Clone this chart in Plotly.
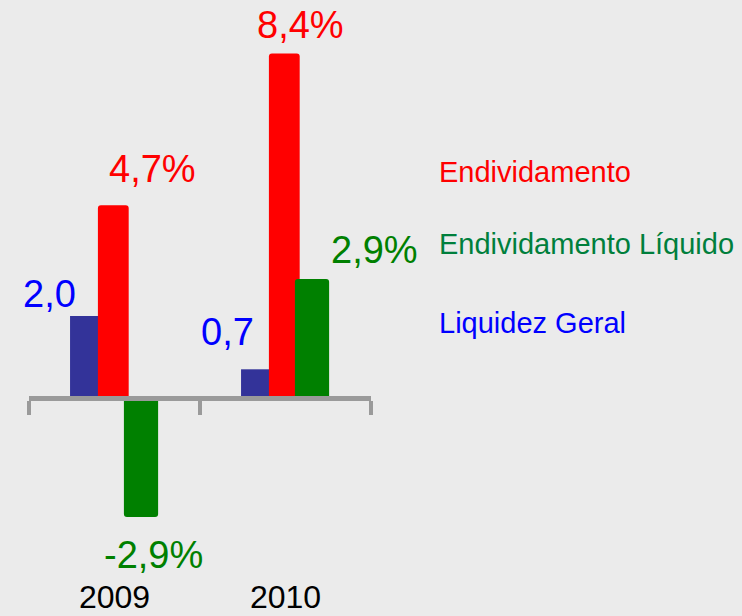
import plotly.graph_objects as go

# ---- data ----
categories = ["2009", "2010"]
liquidez_geral = [2.0, 0.7]
endividamento = [4.7, 8.4]
endividamento_liquido = [-2.9, 2.9]
labels_liquidez = ["2,0", "0,7"]
labels_endiv = ["4,7%", "8,4%"]
labels_endiv_liq = ["-2,9%", "2,9%"]
legend_names = ["Endividamento", "Endividamento Líquido", "Liquidez Geral"]

# ---- styles ----
FONT = "Liberation Sans, Arial, sans-serif"
BG = "#ebebeb"
series = [
    # name, values, labels, bar colour, text colour, offset, width, corner, label shifts (dx, dy)
    dict(name="Liquidez Geral", y=liquidez_geral, text=labels_liquidez, color="#333399",
         tcolor="#0000ff", offset=-0.26, width=0.164, corner=0,
         shifts=[(-34.5, 22.5), (-27.5, 37.5)]),
    dict(name="Endividamento", y=endividamento, text=labels_endiv, color="#ff0000",
         tcolor="#ff0000", offset=-0.097, width=0.18, corner=3,
         shifts=[(39, 36), (16, 29)]),
    dict(name="Endividamento Líquido", y=endividamento_liquido, text=labels_endiv_liq, color="#008000",
         tcolor="#008000", offset=0.055, width=0.2, corner=3,
         shifts=[(12, -38.5), (62.5, 29.5)]),
]
legend_colors = {"Endividamento": "#ff0000", "Endividamento Líquido": "#007f3c", "Liquidez Geral": "#0000ff"}

y_range = [-5.317, 9.707]
zero_pos = (0 - y_range[0]) / (y_range[1] - y_range[0])

fig = go.Figure()
annotations = []
for s in series:
    fig.add_trace(go.Bar(
        x=categories, y=s["y"], name=s["name"],
        offset=s["offset"], width=s["width"],
        marker=dict(color=s["color"], line=dict(width=0), cornerradius=s["corner"]),
        hoverinfo="skip", showlegend=False,
    ))
    for i, (val, lab) in enumerate(zip(s["y"], s["text"])):
        dx, dy = s["shifts"][i]
        annotations.append(dict(
            x=i + s["offset"] + s["width"] / 2, y=val, xref="x", yref="y",
            text=lab, showarrow=False, xanchor="center", yanchor="middle",
            xshift=dx, yshift=dy,
            font=dict(family=FONT, size=38, color=s["tcolor"]),
        ))

legend_y = [172.5, 243.5, 322.5]
for name, py in zip(legend_names, legend_y):
    annotations.append(dict(
        x=(437 - 29) / 342, y=1 - py / 616, xref="paper", yref="paper",
        text=name, showarrow=False, xanchor="left", yanchor="middle",
        font=dict(family=FONT, size=29, color=legend_colors[name]),
    ))

fig.update_layout(
    width=742, height=616,
    margin=dict(l=29, r=371, t=0, b=0),
    paper_bgcolor=BG, plot_bgcolor=BG,
    barmode="overlay",
    showlegend=False,
    annotations=annotations,
    xaxis=dict(
        type="category", range=[-0.5, 1.5],
        anchor="free", position=zero_pos, side="bottom",
        showline=True, linecolor="#9a9a9a", linewidth=5,
        ticks="outside", tickson="boundaries", ticklen=14, tickwidth=4, tickcolor="#9a9a9a",
        showgrid=False, zeroline=False,
        tickfont=dict(family=FONT, size=32, color="#000000"),
        ticklabelstandoff=169,
        automargin=False,
    ),
    yaxis=dict(
        range=y_range, visible=False, showgrid=False, zeroline=False,
    ),
)

fig.write_html(
    "out.html",
    config={"displayModeBar": False},
    post_script="document.body.style.margin='0';document.body.style.background='#ebebeb';"
                "document.documentElement.style.overflow='hidden';",
)
